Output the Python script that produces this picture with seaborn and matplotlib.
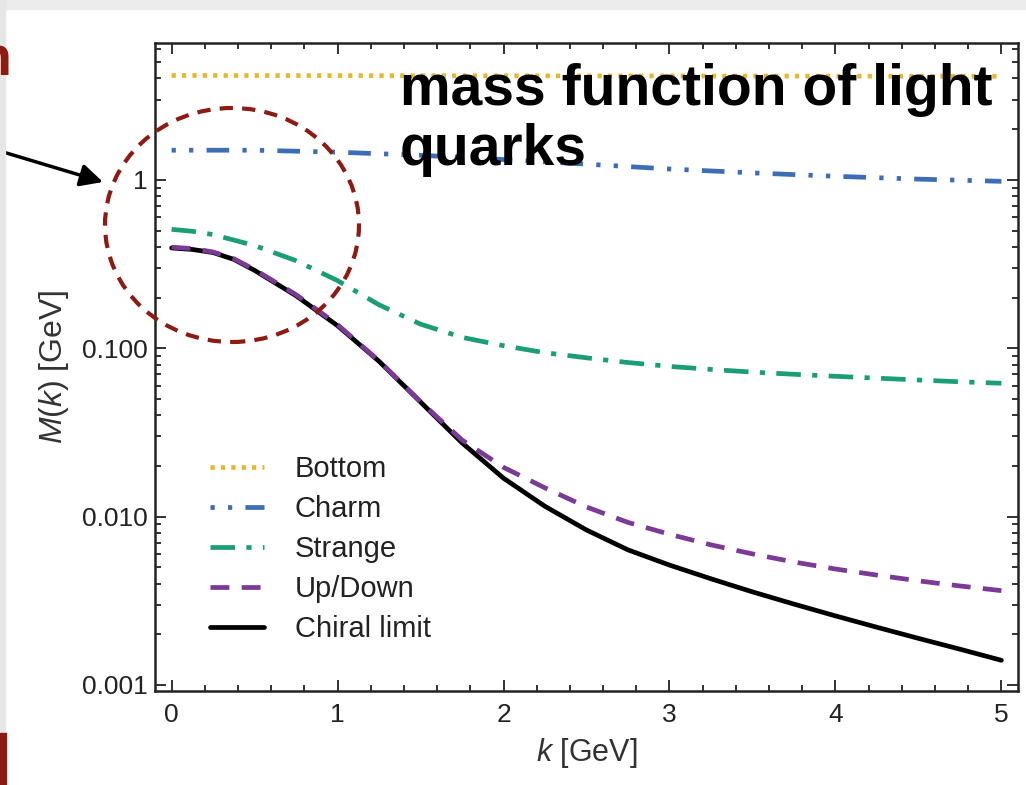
import matplotlib
matplotlib.use('Agg')
import numpy as np
import pandas as pd
import matplotlib.pyplot as plt
from matplotlib.patches import Ellipse, Rectangle
from matplotlib.ticker import FixedLocator, FixedFormatter, MultipleLocator
import seaborn as sns

sns.set_theme(style = 'ticks')
plt.rcParams['font.family'] = ['Liberation Sans', 'DejaVu Sans']
plt.rcParams['mathtext.fontset'] = 'custom'
plt.rcParams['mathtext.it'] = 'Liberation Sans:italic'
plt.rcParams['mathtext.rm'] = 'Liberation Sans'

# values
k_fine = [0, 0.125, 0.25, 0.375, 0.5, 0.75, 1.0, 1.25, 1.5, 1.75, 2.0, 2.25, 2.5,
          2.75, 3.0, 3.25, 3.5, 3.75, 4.0, 4.25, 4.5, 4.75, 5.0]
k_half = [0, 0.5, 1.0, 1.5, 2.0, 2.5, 3.0, 3.5, 4.0, 4.5, 5.0]
k_unit = [0, 1, 2, 3, 4, 5]

m_bottom = [4.17, 4.16, 4.15, 4.14, 4.13, 4.12]
m_charm = [1.50, 1.50, 1.46, 1.40, 1.32, 1.24, 1.16, 1.10, 1.05, 1.01, 0.98]
m_strange = [0.508, 0.495, 0.473, 0.439, 0.407, 0.331, 0.252, 0.181, 0.139, 0.116, 0.1035,
             0.0940, 0.0877, 0.0822, 0.0780, 0.0748, 0.0721, 0.0700, 0.0681, 0.0664,
             0.0647, 0.0632, 0.0619]
m_updown = [0.398, 0.391, 0.373, 0.340, 0.293, 0.208, 0.138, 0.0841, 0.0481, 0.0285, 0.0196,
            0.0148, 0.0114, 0.00923, 0.00785, 0.00679, 0.00600, 0.00537, 0.00488, 0.00449,
            0.00415, 0.00387, 0.00363]
m_chiral = [0.394, 0.386, 0.370, 0.337, 0.290, 0.205, 0.136, 0.0836, 0.0479, 0.0274, 0.0169,
            0.0115, 0.00832, 0.00634, 0.00515, 0.00427, 0.00357, 0.00302, 0.00257, 0.00220,
            0.00189, 0.00163, 0.00140]

quarks = ['Bottom', 'Charm', 'Strange', 'Up/Down', 'Chiral limit']
y_ticks = [0.001, 0.01, 0.1, 1]
y_tick_labels = ['0.001', '0.010', '0.100', '1']

colors = {'Bottom': '#e8b730', 'Charm': '#3d6db5', 'Strange': '#1b9e77',
          'Up/Down': '#7b3a96', 'Chiral limit': 'black'}
dashes = {'Bottom': (0.9, 1.3), 'Charm': (0.9, 2.8, 0.9, 2.8, 4.8, 2.8),
          'Strange': (5.2, 2.4, 1.1, 2.4), 'Up/Down': (4, 2.6), 'Chiral limit': ''}

frames = [
    pd.DataFrame({'k': k_unit, 'M': m_bottom, 'quark': 'Bottom'}),
    pd.DataFrame({'k': k_half, 'M': m_charm, 'quark': 'Charm'}),
    pd.DataFrame({'k': k_fine, 'M': m_strange, 'quark': 'Strange'}),
    pd.DataFrame({'k': k_fine, 'M': m_updown, 'quark': 'Up/Down'}),
    pd.DataFrame({'k': k_fine, 'M': m_chiral, 'quark': 'Chiral limit'}),
]
df = pd.concat(frames, ignore_index = True)

fig = plt.figure(figsize = (10.26, 7.85), dpi = 100)
ax = fig.add_axes([155 / 1026, 1 - 691 / 785, 863 / 1026, 648 / 785])

sns.lineplot(data = df, x = 'k', y = 'M', hue = 'quark', style = 'quark',
             hue_order = quarks, style_order = quarks, palette = colors,
             dashes = dashes, linewidth = 3.4, errorbar = None, legend = False, ax = ax)
for line in ax.lines:
    line.set_solid_joinstyle('round')
# purple dashes sit on top of the black chiral curve
ax.lines[4].set_zorder(1.5)
ax.lines[3].set_zorder(2.5)

ax.set_yscale('log')
ax.set_xlim(-0.1, 5.1)
ax.set_ylim(0.00092, 6.5)

ax.yaxis.set_major_locator(FixedLocator(y_ticks))
ax.yaxis.set_major_formatter(FixedFormatter(y_tick_labels))
ax.xaxis.set_major_locator(MultipleLocator(1))
ax.xaxis.set_minor_locator(MultipleLocator(0.2))

ax.tick_params(which = 'both', direction = 'in', top = True, right = True,
               colors = '#222222', width = 1.3)
ax.tick_params(which = 'major', length = 8, labelsize = 19)
ax.tick_params(axis = 'x', which = 'major', pad = 9)
ax.tick_params(axis = 'y', which = 'major', pad = 5)
ax.tick_params(which = 'minor', length = 4)
for s in ax.spines.values():
    s.set_linewidth(1.8)
    s.set_color('#222222')

ax.set_xlabel('$k$ [GeV]', fontsize = 22, color = '#333333', labelpad = 6)
ax.set_ylabel('$M(k)$ [GeV]', fontsize = 23, color = '#333333', labelpad = 8)

leg = ax.legend(ax.lines[:5], quarks, loc = 'upper left', bbox_to_anchor = (0.064, 0.364),
                frameon = False, fontsize = 21, handlelength = 1.85, handletextpad = 1.05,
                labelspacing = 0.41, borderaxespad = 0, borderpad = 0)
for t in leg.get_texts():
    t.set_color('#222222')

# slide decorations around the plot
fig.patches.append(Rectangle((0, 1 - 9 / 785), 1, 9 / 785, transform = fig.transFigure,
                             color = '#ececec', zorder = 0))
fig.patches.append(Rectangle((0, 0), 5 / 1026, 1, transform = fig.transFigure,
                             color = '#e6e6e6', zorder = 0))
fig.patches.append(Rectangle((0, 0), 6 / 1026, 52 / 785, transform = fig.transFigure,
                             color = '#8c1c13', zorder = 1))
fig.text(11 / 1026, 1 - 61 / 785, 'n', ha = 'right', va = 'center', fontsize = 40,
         fontweight = 'bold', color = '#8c1c13')

circle = Ellipse((232 / 1026, 1 - 225 / 785), 254 / 1026, 234 / 785,
                 transform = fig.transFigure, fill = False, edgecolor = '#8c1c13',
                 linewidth = 3, linestyle = (0, (3.2, 2.2)), zorder = 5)
fig.patches.append(circle)

ax.annotate('', xy = (103 / 1026, 1 - 182 / 785), xytext = (-0.01, 1 - 148 / 785),
            xycoords = 'figure fraction', textcoords = 'figure fraction',
            arrowprops = dict(arrowstyle = '-|>', color = 'black', lw = 2.5,
                              mutation_scale = 34, shrinkA = 0, shrinkB = 0),
            annotation_clip = False)

fig.text(400 / 1026, 1 - 105 / 785, 'mass function of light', ha = 'left',
         va = 'baseline', fontsize = 41, fontweight = 'bold', color = 'black')
fig.text(400 / 1026, 1 - 165 / 785, 'quarks', ha = 'left',
         va = 'baseline', fontsize = 41, fontweight = 'bold', color = 'black')

fig.savefig('out.png', dpi = 100)
